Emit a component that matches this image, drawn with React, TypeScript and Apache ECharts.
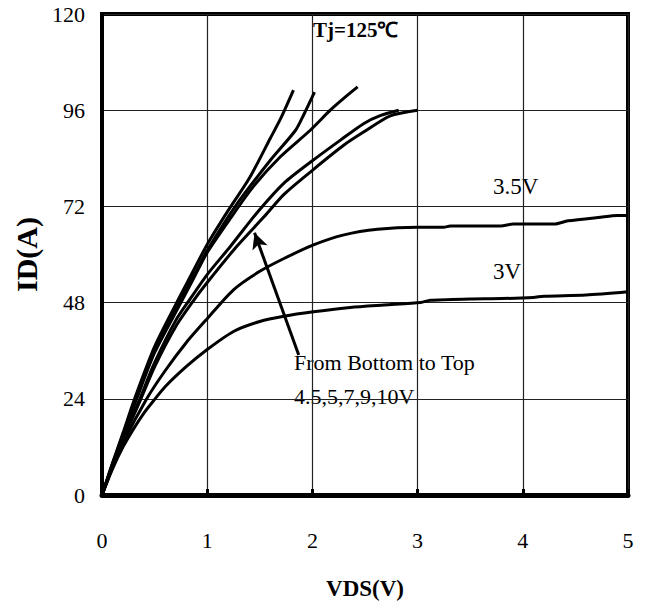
import React, { useEffect, useRef } from "react";
import * as echarts from "echarts";

const xTicks = [0, 1, 2, 3, 4, 5];
const yTicks = [0, 24, 48, 72, 96, 120];

const vgs3: number[][] = [[0,0],[0.1,6.5],[0.2,12],[0.3,16.5],[0.4,20.5],[0.49,23.5],[0.6,27],[0.8,32],[1.0,36.3],[1.25,40.8],[1.5,43.3],[1.73,44.6],[2.01,45.7],[2.36,46.8],[2.68,47.4],[3.03,48],[3.12,48.6],[3.5,48.9],[3.8,49],[4.1,49.3],[4.2,49.6],[4.6,49.9],[5,50.7]];
const vgs35: number[][] = [[0,0],[0.1,6.8],[0.2,13],[0.425,24],[0.6,31],[0.8,38],[1.0,44],[1.25,51.2],[1.5,55.8],[1.73,59],[2.01,62.4],[2.3,64.9],[2.62,66.3],[3.0,66.8],[3.25,66.8],[3.31,67.1],[3.79,67.1],[3.91,67.6],[4.3,67.6],[4.43,68.4],[4.74,69.3],[4.9,69.7],[5,69.7]];
const vgs45: number[][] = [[0,0],[0.1,7.2],[0.2,13.8],[0.37,24],[0.5,32],[0.7,42],[0.87,48.5],[1.0,53],[1.28,62],[1.54,69.4],[1.73,75],[2.0,81],[2.3,87.3],[2.49,90.6],[2.74,94.6],[3.0,96]];
const vgs5: number[][] = [[0,0],[0.1,7.3],[0.2,14],[0.36,24],[0.5,33],[0.7,43.5],[0.84,49],[1.0,55],[1.22,62],[1.47,70.3],[1.73,77.8],[2.0,83.4],[2.27,88.6],[2.49,92.7],[2.65,94.7],[2.82,96]];
const vgs7: number[][] = [[0,0],[0.1,7.6],[0.2,14.8],[0.33,24],[0.5,35.5],[0.75,48],[0.87,54],[1.0,60.5],[1.22,69],[1.44,77],[1.7,84.5],[1.98,91],[2.17,96],[2.3,99],[2.43,101.8]];
const vgs9: number[][] = [[0,0],[0.1,7.8],[0.2,15],[0.32,24],[0.5,36.5],[0.73,48],[0.9,56],[1.0,61],[1.28,72.5],[1.6,83.5],[1.84,91],[1.92,95],[2.02,100.5]];
const vgs10: number[][] = [[0,0],[0.1,8],[0.2,15.5],[0.31,24],[0.5,37],[0.71,48],[0.85,55],[1.0,62.5],[1.2,71],[1.4,79],[1.6,89],[1.7,94],[1.82,101]];

const arrowFrom = [1.87, 34.9];
const arrowTo = [1.45, 65.4];

const FONT = "Liberation Serif";

export default function App() {
  const ref = useRef<HTMLDivElement>(null);
  useEffect(() => {
    document.body.style.margin = "0";
    const chart = echarts.init(ref.current!, undefined, { renderer: "svg" });
    const curves = [vgs3, vgs35, vgs45, vgs5, vgs7, vgs9, vgs10];
    const names = ["3V", "3.5V", "4.5V", "5V", "7V", "9V", "10V"];
    const series: any[] = curves.map((d, i) => ({
      name: names[i],
      type: "line",
      data: d,
      symbol: "none",
      smooth: 0.25,
      lineStyle: { color: "#000", width: 3 },
      z: 5,
    }));
    series[0].markLine = {
      silent: true,
      symbol: ["none", "arrow"],
      symbolSize: [12, 16],
      label: { show: false },
      lineStyle: { color: "#000", width: 3, type: "solid" },
      data: [[{ coord: arrowFrom }, { coord: arrowTo }]],
    };
    const txt = (text: string, left: number, top: number, size: number, bold = false) => ({
      type: "text",
      left,
      top,
      style: { text, fontFamily: FONT, fontSize: size, fontWeight: bold ? "bold" : "normal", fill: "#000" },
    });
    chart.setOption({
      animation: false,
      backgroundColor: "#fff",
      grid: {
        left: 102,
        right: 20,
        top: 14,
        bottom: 114,
        show: true,
        borderColor: "#000",
        borderWidth: 4,
        backgroundColor: "transparent",
      },
      xAxis: {
        type: "value",
        min: xTicks[0],
        max: xTicks[xTicks.length - 1],
        interval: 1,
        name: "VDS(V)",
        nameLocation: "middle",
        nameGap: 82,
        nameTextStyle: { fontFamily: FONT, fontSize: 23, fontWeight: "bold", color: "#000" },
        axisLine: { show: true, lineStyle: { color: "#000", width: 5 } },
        axisTick: { show: true, inside: true, length: 6, lineStyle: { color: "#000", width: 3 } },
        axisLabel: { fontFamily: FONT, fontSize: 22, color: "#000", margin: 34 },
        splitLine: { show: true, lineStyle: { color: "#222", width: 1.2 } },
      },
      yAxis: {
        type: "value",
        min: yTicks[0],
        max: yTicks[yTicks.length - 1],
        interval: 24,
        name: "ID(A)",
        nameLocation: "middle",
        nameGap: 60,
        nameRotate: 90,
        nameTextStyle: { fontFamily: FONT, fontSize: 30, fontWeight: "bold", color: "#000" },
        axisLine: { show: true, lineStyle: { color: "#000", width: 4 } },
        axisTick: { show: false },
        axisLabel: { fontFamily: FONT, fontSize: 22, color: "#000", margin: 17 },
        splitLine: { show: true, lineStyle: { color: "#222", width: 1.2 } },
      },
      graphic: [
        txt("Tj=125℃", 313, 19, 21, true),
        txt("3.5V", 493, 175, 23),
        txt("3V", 493, 260, 23),
        txt("From Bottom to Top", 294, 351, 22),
        txt("4.5,5,7,9,10V", 294, 385, 22),
      ],
      series,
    });
    return () => chart.dispose();
  }, []);
  return <div ref={ref} style={{ width: 648, height: 609 }} />;
}
